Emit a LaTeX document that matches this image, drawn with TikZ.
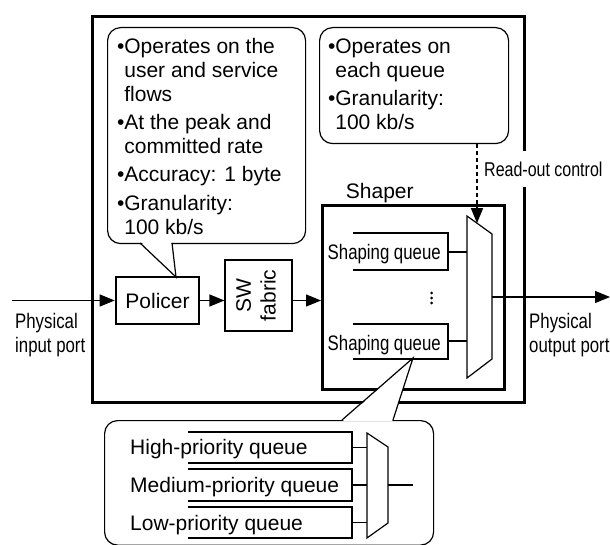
\documentclass[tikz,border=0pt]{standalone}
\usepackage{fontspec}
\usepackage{graphicx}
\setmainfont{Liberation Sans}
\newfontfamily\narrowfont[FakeStretch=0.8]{Liberation Sans}
\usetikzlibrary{arrows.meta}

\tikzset{
  thinln/.style={line width=1.2pt},
  thickbox/.style={draw, line width=2.6pt, inner sep=0pt},
  thinbox/.style={draw, line width=1.2pt, inner sep=0pt},
  callout/.style={draw, line width=1.2pt, rounded corners=13pt, fill=white, inner sep=0pt},
  flow/.style={line width=1.2pt, -{Triangle[length=15pt,width=12pt]}},
  label/.style={inner sep=0pt, anchor=base west},
  narrowtext/.style={label, font=\narrowfont\fontsize{21}{23.7}\selectfont, align=left},
  notetext/.style={label},
}

\begin{document}
\begin{tikzpicture}[x=1pt, y=-1pt, font=\fontsize{21}{23.8}\selectfont, line join=miter]
\useasboundingbox (0,0) rectangle (610,545);

% router frame and shaper frame
\node[thickbox, minimum width=432pt, minimum height=386pt, anchor=north west] (router) at (91,15) {};
\node[thickbox, minimum width=182pt, minimum height=184pt, anchor=north west] (shaper) at (321,204) {};
\node[label] (shaperlabel) at (345.7,198.3) {Shaper};

% policer and switch fabric
\node[thickbox, minimum width=83pt, minimum height=47pt] (policer) at (157.5,300.5) {Policer};
\node[thinbox, minimum width=67pt, minimum height=71pt] (fabric) at (258.5,295.5)
  {\rotatebox{90}{\begin{tabular}{@{}c@{}}SW\\[1pt]fabric\end{tabular}}};

% ports (multi-line labels: base is the last line)
\coordinate (inport) at (12,300.5);
\coordinate (outport) at (610,297);
\node[narrowtext] (inlabel) at (15,352) {Physical\\input port};
\node[narrowtext] (outlabel) at (529,352) {Physical\\output port};

\draw[flow] (inport) -- (policer.west);
\draw[flow] (policer.east) -- (policer.east -| fabric.west);
\draw[flow] (policer.east -| fabric.east) -- (policer.east -| shaper.west);

% shaping queues
\draw[thinln] (353,233) -| (448,270) -- (353,270);
\node[narrowtext] (sq1) at (327.5,259.3) {Shaping queue};
\draw[thinln] (353,324) -| (448,359) -- (353,359);
\node[narrowtext] (sq2) at (327.5,350.7) {Shaping queue};
\fill (431.7,293) circle (1.5pt) (431.7,298) circle (1.5pt) (431.7,303) circle (1.5pt);

% read-out multiplexer
\coordinate (mA) at (467,216);
\coordinate (mB) at (492,234);
\coordinate (mC) at (492,359);
\coordinate (mD) at (467,378);
\draw[thinln] (mA) -- (mB) -- (mC) -- (mD) -- cycle;
\coordinate (q1out) at (448,252);
\coordinate (q2out) at (448,341);
\draw[thinln] (q1out) -- (q1out -| mA);
\draw[thinln] (q2out) -- (q2out -| mA);
\draw[flow] (mB |- outport) -- (outport);

% shaper note
\node[callout, minimum width=189pt, minimum height=116pt, anchor=north west] (shapenote) at (319,27) {};
\node[notetext] (shapenotetext) at (327.8,53.3) {\begin{tabular}[t]{@{}l@{}l@{}}
\textbullet&Operates on\\
&each queue\\[4.5pt]
\textbullet&Granularity:\\
&100 kb/s
\end{tabular}};
\coordinate (rotip) at (477,223.2);
\draw[flow, dash pattern=on 4pt off 3pt] (rotip |- shapenote.south) -- (rotip);
\node[label, font=\narrowfont\fontsize{20}{24}\selectfont, fill=white, inner xsep=2pt,
      text height=26pt, text depth=10pt] (rolabel) at (482,176.7) {Read-out control};

% policer note
\node[callout, minimum width=198pt, minimum height=216pt, anchor=north west] (policenote) at (107,27) {};
\node[notetext] (policenotetext) at (116.8,54) {\begin{tabular}[t]{@{}l@{}l@{}}
\textbullet&Operates on the\\
&user and service\\
&flows\\[4.5pt]
\textbullet&At the peak and\\
&committed rate\\[4.5pt]
\textbullet&Accuracy: 1 byte\\[4.5pt]
\textbullet&Granularity:\\
&100 kb/s
\end{tabular}};
\coordinate (ptip) at (176,277);
\coordinate (pbaseL) at (140,243);
\coordinate (pbaseR) at (172,243);
\fill[white] (140.8,241.8) -- (ptip) -- (171.4,241.8) -- cycle;
\draw[thinln] (pbaseL) -- (ptip) -- (pbaseR);

% priority queue detail
\node[callout, minimum width=329pt, minimum height=124.5pt, anchor=north west] (queuenote) at (104,420) {};
\coordinate (qtip) at (413,358);
\coordinate (qbaseL) at (342,420);
\coordinate (qbaseR) at (393,420);
\fill[white] (342.9,421) -- (qtip) -- (392.2,421) -- cycle;
\draw[thinln] (qbaseL) -- (qtip) -- (qbaseR);

\draw[thinln] (188,432) -| (352,463) -- (188,463);
\draw[thinln] (188,469) -| (352,501) -- (188,501);
\draw[thinln] (188,507) -| (352,538) -- (188,538);
\node[label] (highq) at (130,454.5) {High-priority queue};
\node[label] (medq) at (130,492.7) {Medium-priority queue};
\node[label] (lowq) at (130,530) {Low-priority queue};

\coordinate (nA) at (367,433);
\coordinate (nB) at (388,447);
\coordinate (nC) at (388,523);
\coordinate (nD) at (367,538);
\draw[thinln] (nA) -- (nB) -- (nC) -- (nD) -- cycle;
\coordinate (hout) at (352,447.5);
\coordinate (mout) at (352,485);
\coordinate (lout) at (352,522.5);
\coordinate (qmuxout) at (413,485);
\draw[thinln] (hout) -- (hout -| nA);
\draw[thinln] (mout) -- (mout -| nA);
\draw[thinln] (lout) -- (lout -| nA);
\draw[thinln] (mout -| nB) -- (qmuxout);
\end{tikzpicture}
\end{document}
